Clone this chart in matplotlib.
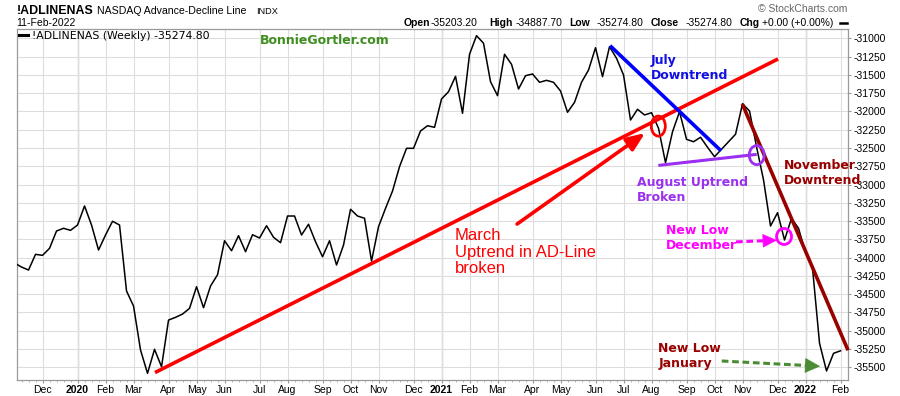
import numpy as np
import pandas as pd
import matplotlib
matplotlib.use('Agg')
import matplotlib.pyplot as plt
from matplotlib.patches import Ellipse
from matplotlib.lines import Line2D
from matplotlib.ticker import FixedLocator, FuncFormatter

plt.rcParams['axes.unicode_minus'] = False

# weekly NASDAQ advance-decline line, week of 4-Nov-2019 .. week of 7-Feb-2022
adl = [
    -34074, -34129, -34170, -33955, -33969, -33873, -33636, -33599, -33627, -33554,
    -33294, -33554, -33896, -33691, -33503, -33554, -34457, -34662, -35264, -35583,
    -35254, -35493, -34854, -34817, -34772, -34694, -34398, -34685, -34389, -34234,
    -33769, -33906, -33700, -33919, -33687, -33732, -33564, -33722, -33796, -33431,
    -33431, -33691, -33544, -33783, -33988, -33769, -34101, -33828, -33339, -33431,
    -33462, -34047, -33577, -33326, -33089, -32756, -32505, -32505, -32268, -32196,
    -32218, -31830, -31731, -31520, -32026, -31219, -30964, -31068, -31594, -31785,
    -31219, -31356, -31694, -31512, -31488, -31602, -31575, -31602, -31721, -32012,
    -31876, -31602, -31434, -31129, -31525, -31115, -31274, -31502, -32118, -31971,
    -32049, -32018, -32231, -32702, -32278, -32004, -32382, -32415, -32354, -32491,
    -32620, -32518, -32415, -32313, -31895, -31995, -32483, -32938, -33568, -33386,
    -33759, -33462, -33599, -33933, -34146, -35172, -35551, -35309, -35274.8,
]
dates = pd.date_range('2019-11-04', periods=len(adl), freq='W-MON')
y_ticks = np.arange(-35500, -30999, 250)

# trend lines drawn by the analyst (week index, value)
uptrend_x, uptrend_y = [20.07, 109.07], [-35572, -31283]
july_x, july_y = [85.07, 100.93], [-31101, -32539]
aug_x, aug_y = [91.97, 106.03], [-32739, -32588]
nov_x, nov_y = [103.97, 119.07], [-31899, -35267]

W, H = 900, 396


def fx(px):
    return px / W


def fy(py):
    return 1 - py / H


fig = plt.figure(figsize=(9, 3.96), dpi=100)
ax = fig.add_axes([fx(16.7), fy(380), (848.3 - 16.7) / W, (380 - 29) / H])

x = np.arange(len(adl))
ax.plot(x, adl, color='black', lw=1.1, zorder=3)

ax.set_xlim(0.31, 119.11)
ax.set_ylim(-35674, -30873)

# month ticks at first weekly bar of each month
month_idx = [i for i in range(1, len(dates)) if dates[i].month != dates[i - 1].month]
month_lab = [str(dates[i].year) if dates[i].month == 1 else dates[i].strftime('%b')
             for i in month_idx]
ax.xaxis.set_major_locator(FixedLocator(month_idx))
ax.set_xticklabels(month_lab)
ax.xaxis.set_minor_locator(FixedLocator(list(x)))
for lab in ax.get_xticklabels():
    if lab.get_text().isdigit():
        lab.set_fontweight('bold')

ax.yaxis.tick_right()
ax.set_yticks(y_ticks)
ax.yaxis.set_major_formatter(FuncFormatter(lambda v, p: '%d' % v))

ax.tick_params(axis='both', which='major', labelsize=7.5, colors='#999999',
               labelcolor='black', length=2, pad=1.5)
ax.tick_params(axis='x', which='minor', length=1.5, colors='#aaaaaa')
for lab in ax.get_xticklabels() + ax.get_yticklabels():
    lab.set_family('Liberation Sans')

ax.grid(True, which='major', color='#dddddd', lw=0.8)
ax.set_axisbelow(True)
for i in month_idx:
    if dates[i].month == 1:
        ax.axvline(i, color='#b5b5b5', lw=0.9, zorder=0.5)
for s in ax.spines.values():
    s.set_color('#9a9a9a')
    s.set_linewidth(0.9)

# trend lines
ax.plot(uptrend_x, uptrend_y, color='#ff0000', lw=2.6, solid_capstyle='butt', zorder=4)
ax.plot(july_x, july_y, color='#0000ff', lw=2.6, solid_capstyle='butt', zorder=4)
ax.plot(aug_x, aug_y, color='#9b30f0', lw=2.2, solid_capstyle='butt', zorder=4)
ax.plot(nov_x, nov_y, color='#990000', lw=2.6, solid_capstyle='butt', zorder=4,
        clip_on=False)

# red arrow for March uptrend
ax.annotate('', xy=(90.07, -32296), xytext=(71.79, -33541),
            arrowprops=dict(arrowstyle='-|>,head_length=1.1,head_width=0.45',
                            color='#ff0000', lw=2.6, shrinkA=0, shrinkB=0), zorder=5)

# circles
for (cx, cy, w, h, c) in [(91.97, -32201, 2.0, 274, '#ff0000'),
                          (106.03, -32598, 2.14, 260, '#9b30f0'),
                          (109.93, -33711, 2.14, 219, '#ff00ff')]:
    ax.add_patch(Ellipse((cx, cy), w, h, fill=False, ec=c, lw=2.0, zorder=5))

# dashed arrows
ax.plot([103.07, 107.6], [-33785, -33767], color='#ff00ff', lw=2.2,
        dashes=(2.2, 1.2), zorder=5)
ax.annotate('', xy=(108.93, -33762), xytext=(107.4, -33768),
            arrowprops=dict(arrowstyle='-|>,head_length=0.95,head_width=0.45',
                            color='#ff00ff', lw=0.5, shrinkA=0, shrinkB=0), zorder=5)
ax.plot([101.03, 113.4], [-35414, -35477], color='#4a8c33', lw=2.2,
        dashes=(2.2, 1.2), zorder=5)
ax.annotate('', xy=(115.07, -35486), xytext=(113.3, -35477),
            arrowprops=dict(arrowstyle='-|>,head_length=1.0,head_width=0.5',
                            color='#4a8c33', lw=0.5, shrinkA=0, shrinkB=0), zorder=5)

# annotation texts
bold = dict(family='DejaVu Sans', fontweight='bold', fontsize=9, va='center',
            linespacing=1.2)
fig.text(fx(260), fy(41), 'BonnieGortler.com', color='#3f8f1f', **bold)
fig.text(fx(651), fy(68.2), 'July\nDowntrend', color='#1010e0', **bold)
fig.text(fx(637.3), fy(189.5), 'August Uptrend\nBroken', color='#9b30f0', **bold)
fig.text(fx(784), fy(173.2), 'November\nDowntrend', color='#990000', **bold)
fig.text(fx(665.7), fy(238), 'New Low\nDecember', color='#ff00ff', **bold)
fig.text(fx(658.3), fy(356), 'New Low\nJanuary', color='#990000', **bold)
fig.text(fx(455), fy(252), 'March\nUptrend in AD-Line\nbroken', color='#ff0000',
         family='Liberation Sans', fontsize=12, va='center', linespacing=1.15)

# header
hdr = dict(family='Liberation Sans', va='baseline')
fig.text(fx(16.7), fy(13.5), '!ADLINENAS', fontsize=8.9, fontweight='bold', **hdr)
fig.text(fx(96.7), fy(13.5), 'NASDAQ Advance-Decline Line', fontsize=7.6, **hdr)
fig.text(fx(255.7), fy(13.5), 'INDX', fontsize=6.6, **hdr)
fig.text(fx(16.7), fy(26), '11-Feb-2022', fontsize=7.5, **hdr)
fig.text(fx(847), fy(12.3), '\u00a9 StockCharts.com', fontsize=7.5, color='#666666',
         ha='right', **hdr)

quote = [(403.3, 'Open', True), (430.5, '-35203.20', False),
         (489, 'High', True), (515.7, '-34887.70', False),
         (569.3, 'Low', True), (596.7, '-35274.80', False),
         (651, 'Close', True), (685.7, '-35274.80', False),
         (740, 'Chg', True), (761.7, '+0.00 (+0.00%)', False)]
for px, t, b in quote:
    fig.text(fx(px), fy(26), t, fontsize=7.5, fontweight='bold' if b else 'normal', **hdr)
fig.lines.append(Line2D([fx(840), fx(846.7)], [fy(22.7), fy(22.7)], color='black',
                        lw=1.8, transform=fig.transFigure))

# legend line inside the plot
fig.lines.append(Line2D([fx(18.5), fx(27.7)], [fy(34.5), fy(34.5)], color='black',
                        lw=2.2, transform=fig.transFigure))
fig.text(fx(32), fy(39), '!ADLINENAS (Weekly) -35274.80', fontsize=7.8,
         family='DejaVu Sans', va='baseline')

fig.savefig('out.png', dpi=100)
